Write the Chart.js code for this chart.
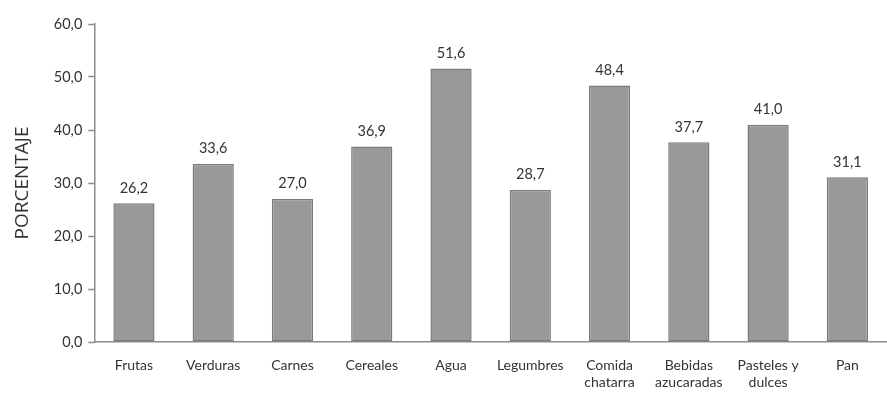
<!DOCTYPE html>
<html>
<head>
<meta charset="utf-8">
<script src="https://cdn.jsdelivr.net/npm/chart.js@4/dist/chart.umd.min.js"></script>
<style>
  html, body { margin: 0; padding: 0; background: #fff; }
  #wrap { width: 887px; height: 394px; position: relative; }
</style>
</head>
<body>
<div id="wrap"><canvas id="chart"></canvas></div>
<script>
// categories and values
var categories = ['Frutas', 'Verduras', 'Carnes', 'Cereales', 'Agua', 'Legumbres',
  ['Comida', 'chatarra'], ['Bebidas', 'azucaradas'], ['Pasteles y', 'dulces'], 'Pan'];
var porcentajes = [26.2, 33.6, 27.0, 36.9, 51.6, 28.7, 48.4, 37.7, 41.0, 31.1];
var yTicks = [0, 10, 20, 30, 40, 50, 60];

function coma(v) {
  return v.toFixed(1).replace('.', ',');
}

// draws the value above every bar
var valueLabels = {
  id: 'valueLabels',
  afterDatasetsDraw: function(chart) {
    var ctx = chart.ctx;
    var meta = chart.getDatasetMeta(0);
    ctx.save();
    ctx.font = '14.5px Lato, sans-serif';
    ctx.fillStyle = '#333333';
    ctx.textAlign = 'center';
    ctx.textBaseline = 'bottom';
    meta.data.forEach(function(bar, i) {
      ctx.fillText(coma(porcentajes[i]), bar.x, bar.y - 8);
    });
    ctx.restore();
  }
};

var ctx = document.getElementById('chart').getContext('2d');
new Chart(ctx, {
  type: 'bar',
  data: {
    labels: categories,
    datasets: [{
      data: porcentajes,
      backgroundColor: '#999999',
      borderColor: '#7a7a7a',
      borderWidth: 1.5,
      borderSkipped: false,
      categoryPercentage: 1,
      barPercentage: 0.52
    }]
  },
  options: {
    responsive: true,
    maintainAspectRatio: false,
    animation: false,
    layout: { padding: { top: 24, right: 0, bottom: 0, left: 11 } },
    plugins: {
      legend: { display: false },
      tooltip: { enabled: false }
    },
    scales: {
      x: {
        afterFit: function(scale) { scale.height = 52; },
        grid: { display: false, drawTicks: false },
        border: { color: '#8c8c8c', width: 1.5 },
        ticks: {
          color: '#333333',
          font: { family: 'Lato, sans-serif', size: 14 },
          padding: 15,
          maxRotation: 0,
          autoSkip: false
        }
      },
      y: {
        min: 0,
        max: 60,
        afterBuildTicks: function(axis) {
          axis.ticks = yTicks.map(function(v) { return { value: v }; });
        },
        grid: { display: true, drawOnChartArea: false, drawTicks: true, tickLength: 6, color: '#8c8c8c', tickWidth: 1.5 },
        border: { color: '#8c8c8c', width: 1.5 },
        title: {
          display: true,
          text: 'PORCENTAJE',
          color: '#333333',
          font: { family: '"Open Sans", sans-serif', size: 19 },
          padding: { top: 0, bottom: 14 }
        },
        ticks: {
          color: '#333333',
          font: { family: 'Lato, sans-serif', size: 14.5 },
          padding: 6,
          callback: function(v) { return coma(v); }
        }
      }
    }
  },
  plugins: [valueLabels]
});
</script>
</body>
</html>
